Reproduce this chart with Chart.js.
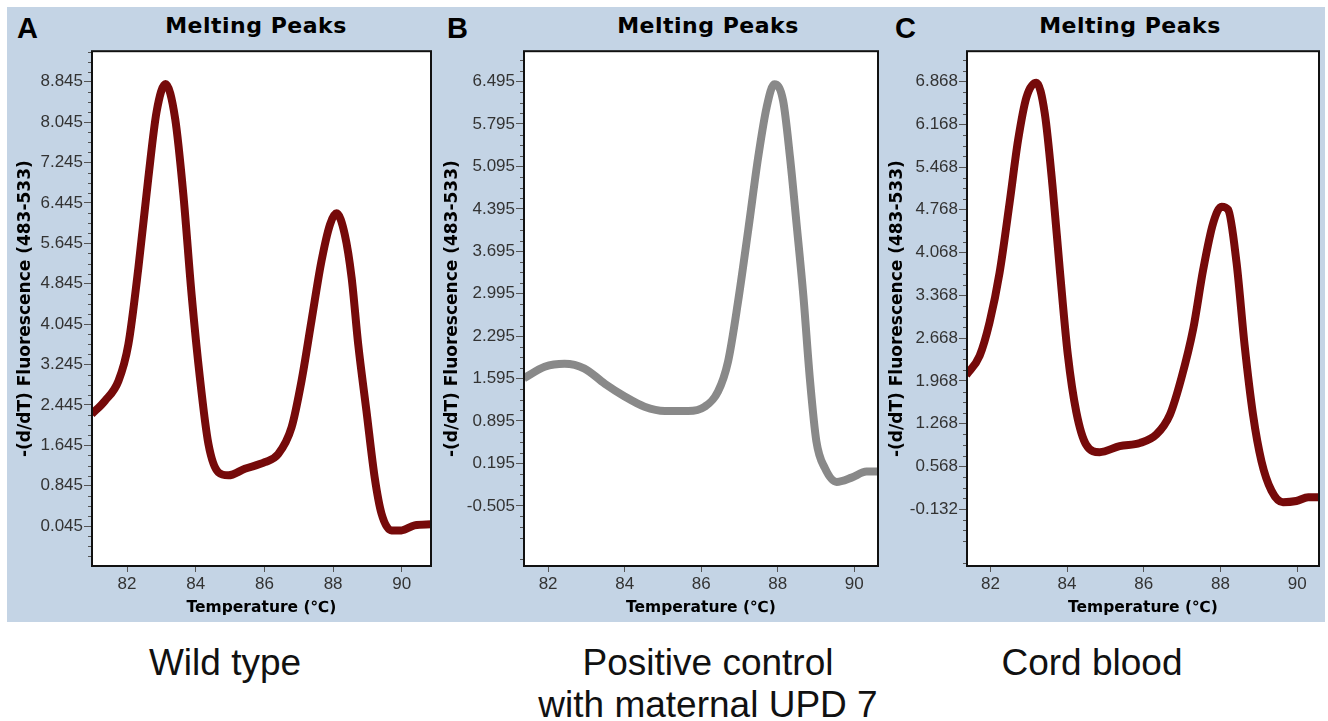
<!DOCTYPE html>
<html>
<head>
<meta charset="utf-8">
<script src="https://cdn.jsdelivr.net/npm/chart.js"></script>
<style>
  body { margin: 0; background: #fff; width: 1328px; height: 721px; position: relative; overflow: hidden; }
  #band { position: absolute; left: 7px; top: 7px; width: 1318px; height: 615px; background: #c4d4e5; }
  canvas { position: absolute; }
  .head { position: absolute; top: 13px; font: bold 22px "DejaVu Sans"; line-height: normal; letter-spacing: 0.5px; transform: translateX(-50%); white-space: nowrap; color: #000; }
  .tag { position: absolute; top: 12px; font: bold 29px "Liberation Sans"; line-height: normal; color: #000; }
  .cap { position: absolute; top: 642px; font: 37px "Liberation Sans"; line-height: 42px; color: #111; text-align: center; transform: translateX(-50%); white-space: nowrap; }
</style>
</head>
<body>
<div id="band"></div>

<div class="tag" style="left:17px">A</div>
<div class="tag" style="left:447px">B</div>
<div class="tag" style="left:895px">C</div>

<div class="head" style="left:256px">Melting Peaks</div>
<div class="head" style="left:708px">Melting Peaks</div>
<div class="head" style="left:1130px">Melting Peaks</div>

<canvas id="chartA" width="428" height="590" style="left:13px;top:40px"></canvas>
<canvas id="chartB" width="448" height="590" style="left:440px;top:40px"></canvas>
<canvas id="chartC" width="440" height="590" style="left:885px;top:40px"></canvas>

<div class="cap" style="left:225px">Wild type</div>
<div class="cap" style="left:708px">Positive control<br>with maternal UPD 7</div>
<div class="cap" style="left:1092px">Cord blood</div>

<script>
// temperature (°C) and -(d/dT) values
const tempA = [80.97, 81.36, 81.75, 82.04, 82.33, 82.62, 82.86, 83.12, 83.40, 83.64, 83.88, 84.12, 84.37, 84.66, 84.95, 85.43, 86.01, 86.40, 86.79, 87.08, 87.37, 87.66, 87.91, 88.10, 88.34, 88.54, 88.73, 88.97, 89.21, 89.41, 89.70, 89.99, 90.37, 90.85];
const valA  = [2.26, 2.53, 2.92, 3.65, 5.16, 6.94, 8.25, 8.80, 8.12, 6.61, 4.63, 2.99, 1.67, 1.11, 1.05, 1.18, 1.31, 1.47, 2.00, 2.92, 4.11, 5.29, 6.02, 6.24, 5.82, 4.96, 3.65, 2.33, 1.01, 0.29, -0.04, -0.04, 0.06, 0.08];

const tempB = [81.37, 81.91, 82.43, 82.95, 83.48, 84.00, 84.52, 85.05, 85.66, 86.09, 86.44, 86.70, 86.96, 87.23, 87.49, 87.71, 87.91, 88.14, 88.32, 88.49, 88.67, 88.84, 89.01, 89.23, 89.54, 89.93, 90.32, 90.63];
const valB  = [1.60, 1.79, 1.84, 1.76, 1.51, 1.30, 1.13, 1.06, 1.06, 1.13, 1.38, 1.87, 2.85, 4.05, 5.25, 6.07, 6.45, 6.18, 5.25, 4.16, 2.96, 1.59, 0.56, 0.12, -0.11, -0.04, 0.06, 0.06];

const tempC = [81.37, 81.72, 81.98, 82.24, 82.50, 82.72, 82.94, 83.20, 83.42, 83.63, 83.81, 84.02, 84.24, 84.50, 84.85, 85.37, 85.90, 86.33, 86.68, 86.98, 87.29, 87.55, 87.81, 88.03, 88.20, 88.42, 88.63, 88.85, 89.07, 89.33, 89.63, 89.98, 90.29, 90.59];
const valC  = [2.06, 2.38, 2.93, 3.74, 4.88, 5.90, 6.61, 6.85, 6.34, 5.09, 3.79, 2.39, 1.46, 0.92, 0.80, 0.90, 0.95, 1.09, 1.41, 2.01, 2.82, 3.79, 4.55, 4.82, 4.77, 3.90, 2.55, 1.41, 0.65, 0.17, -0.02, 0.00, 0.06, 0.06];

// tick labels
const xTicks  = [82, 84, 86, 88, 90];
const yTicksA = [0.045, 0.845, 1.645, 2.445, 3.245, 4.045, 4.845, 5.645, 6.445, 7.245, 8.045, 8.845];
const yTicksB = [-0.505, 0.195, 0.895, 1.595, 2.295, 2.995, 3.695, 4.395, 5.095, 5.795, 6.495];
const yTicksC = [-0.132, 0.568, 1.268, 1.968, 2.668, 3.368, 4.068, 4.768, 5.468, 6.168, 6.868];

// white plot area, small minor ticks, black frame
const frame = {
  id: 'frame',
  beforeDatasetsDraw(chart) {
    const { ctx, chartArea: a } = chart;
    ctx.save();
    ctx.fillStyle = '#fff';
    ctx.fillRect(a.left, a.top, a.width, a.height);
    ctx.restore();
  },
  afterDatasetsDraw(chart) {
    const { ctx, chartArea: a, scales } = chart;
    const y = scales.y;
    const t = y.ticks.map(k => k.value);
    const step = (t[1] - t[0]) / 4;
    ctx.save();
    ctx.strokeStyle = '#555';
    ctx.lineWidth = 1;
    for (let k = -8; k < t.length * 4 + 8; k++) {
      if (k % 4 === 0) continue;
      const v = t[0] + k * step;
      if (v < y.min || v > y.max) continue;
      const py = Math.round(y.getPixelForValue(v)) + 0.5;
      ctx.beginPath();
      ctx.moveTo(a.left - 4, py);
      ctx.lineTo(a.left, py);
      ctx.stroke();
    }
    ctx.strokeStyle = '#111';
    ctx.lineWidth = 2;
    ctx.strokeRect(a.left, a.top, a.width, a.height);
    ctx.restore();
  }
};

function makePanel(id, temps, vals, color, xr, yr, yTicks, yW, pad) {
  new Chart(document.getElementById(id), {
    type: 'line',
    data: {
      datasets: [{
        data: temps.map((t, i) => ({ x: t, y: vals[i] })),
        borderColor: color,
        borderWidth: 8,
        pointRadius: 0,
        cubicInterpolationMode: 'monotone',
        fill: false
      }]
    },
    options: {
      responsive: false,
      animation: false,
      devicePixelRatio: 1,
      layout: { padding: pad },
      plugins: { legend: { display: false }, tooltip: { enabled: false } },
      scales: {
        x: {
          type: 'linear', min: xr[0], max: xr[1],
          afterBuildTicks: s => { s.ticks = xTicks.map(v => ({ value: v })); },
          afterFit: s => { s.height = 64; },
          ticks: { font: { family: 'Liberation Sans', size: 17 }, color: '#333', padding: 2, maxRotation: 0, callback: v => String(v) },
          grid: { drawOnChartArea: false, tickLength: 6, color: '#555' },
          border: { display: false },
          title: { display: true, text: 'Temperature (℃)', color: '#000',
                   font: { family: 'DejaVu Sans', weight: 'bold', size: 15.5 }, padding: { top: 0, bottom: 13 } }
        },
        y: {
          type: 'linear', min: yr[0], max: yr[1],
          afterBuildTicks: s => { s.ticks = yTicks.map(v => ({ value: v })); },
          afterFit: s => { s.width = yW; },
          ticks: { font: { family: 'Liberation Sans', size: 17 }, color: '#333', padding: 1, autoSkip: false, callback: v => v.toFixed(3) },
          grid: { drawOnChartArea: false, tickLength: 8, color: '#555' },
          border: { display: false },
          title: { display: true, text: '-(d/dT) Fluorescence (483-533)', color: '#000',
                   font: { family: 'DejaVu Sans', weight: 'bold', size: 17 }, padding: { top: 2, bottom: 0 } }
        }
      }
    },
    plugins: [frame]
  });
}

makePanel('chartA', tempA, valA, '#760a0a', [80.98, 90.85], [-0.745, 9.451], yTicksA, 79, { top: 9, right: 10, left: 0, bottom: 0 });
makePanel('chartB', tempB, valB, '#898989', [81.37, 90.62], [-1.498, 6.996], yTicksB, 84, { top: 7, right: 10, left: 0, bottom: 0 });
makePanel('chartC', tempC, valC, '#760a0a', [81.39, 90.57], [-1.064, 7.365], yTicksC, 82, { top: 7, right: 6, left: 0, bottom: 0 });
</script>
</body>
</html>
